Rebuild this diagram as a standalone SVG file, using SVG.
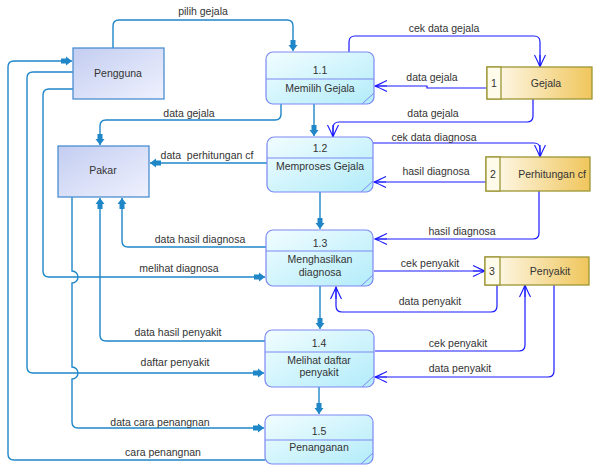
<svg xmlns="http://www.w3.org/2000/svg" width="593" height="466" viewBox="0 0 593 466">
<defs>
<linearGradient id="gProc" x1="0" y1="0" x2="1" y2="1">
<stop offset="0" stop-color="#f2fdff"/><stop offset="1" stop-color="#b2ecfa"/>
</linearGradient>
<linearGradient id="gEnt" x1="0" y1="0" x2="1" y2="1">
<stop offset="0" stop-color="#c3cdf1"/><stop offset="1" stop-color="#eff1fd"/>
</linearGradient>
<linearGradient id="gStore" x1="0" y1="0" x2="1" y2="0">
<stop offset="0" stop-color="#fffdf6"/><stop offset="1" stop-color="#f0c65c"/>
</linearGradient>
<marker id="aFill" markerUnits="userSpaceOnUse" markerWidth="14" markerHeight="12" viewBox="-12 -6 14 12" refX="0" refY="0" orient="auto">
<path d="M-11,-2.5 L-6,-2.5 L-6,-4.5 L0,0 L-6,4.5 L-6,2.5 L-11,2.5 Z" fill="#1f86c8"/>
</marker>
<marker id="aOpen" markerUnits="userSpaceOnUse" markerWidth="16" markerHeight="14" viewBox="-13 -7 16 14" refX="0" refY="0" orient="auto">
<path d="M-12,-5.5 Q-4,-1.5 0,0 Q-4,1.5 -12,5.5 M-12,0 H0" fill="none" stroke="#1a1aff" stroke-width="1.1"/>
</marker>
</defs>
<style>
text{font-family:"Liberation Sans",Arial,sans-serif;font-size:10.5px;fill:#333;}
.c{text-anchor:middle;}
.ent{fill:url(#gEnt);stroke:#4a8ed2;stroke-width:1.3;}
.proc{fill:url(#gProc);stroke:#7d88f2;stroke-width:1.2;}
.pl{stroke:#7d88f2;stroke-width:1;fill:none;}
.store{fill:url(#gStore);stroke:#9c9634;stroke-width:1.3;}
.num{fill:#fffbeb;stroke:#9c9634;stroke-width:1.3;}
.ec{fill:none;stroke:#1f86c8;stroke-width:1.4;}
.sc{fill:none;stroke:#1a1aff;stroke-width:1.2;}
</style>
<rect width="593" height="466" fill="#fff"/>

<g id="connectors">
<!-- entity flows -->
<path class="ec" marker-end="url(#aFill)" d="M113,48 V26 Q113,20 119,20 H287 Q293,20 293,26 V51"/>
<path class="ec" marker-end="url(#aFill)" d="M281,104 V114 Q281,120 275,120 H106 Q100,120 100,126 V145"/>
<path class="ec" marker-end="url(#aFill)" d="M267,163 H150"/>
<path class="ec" marker-end="url(#aFill)" d="M266,247 H128 Q122,247 122,241 V198"/>
<path class="ec" marker-end="url(#aFill)" d="M265,341 H106 Q100,341 100,335 V198"/>
<path class="ec" marker-end="url(#aFill)" d="M72,197 V271 A6,6 0 0 1 72,283 V367 A6,6 0 0 1 72,379 V422 Q72,428 78,428 H264"/>
<path class="ec" marker-end="url(#aFill)" d="M265,460 H14 Q8,460 8,454 V67 Q8,61 14,61 H72"/>
<path class="ec" marker-end="url(#aFill)" d="M73,72 H33 Q27,72 27,78 V367 Q27,373 33,373 H264"/>
<path class="ec" marker-end="url(#aFill)" d="M73,89 H49 Q43,89 43,95 V271 Q43,277 49,277 H265"/>
<path class="ec" marker-end="url(#aFill)" d="M314,104 V136"/>
<path class="ec" marker-end="url(#aFill)" d="M320,192 V229"/>
<path class="ec" marker-end="url(#aFill)" d="M320,286 V329"/>
<path class="ec" marker-end="url(#aFill)" d="M319,387 V414"/>
<!-- store flows -->
<path class="sc" marker-end="url(#aOpen)" d="M349,52 V42 Q349,36 355,36 H534 Q540,36 540,42 V67"/>
<path class="sc" marker-end="url(#aOpen)" d="M487,88 H427 V86 H375"/>
<path class="sc" marker-end="url(#aOpen)" d="M533,99 V116 Q533,122 527,122 H339 Q333,122 333,128 V137"/>
<path class="sc" marker-end="url(#aOpen)" d="M373,143 H534 Q540,143 540,149 V157"/>
<path class="sc" marker-end="url(#aOpen)" d="M486,182 H374"/>
<path class="sc" marker-end="url(#aOpen)" d="M539,191 V233 Q539,239 533,239 H375"/>
<path class="sc" marker-end="url(#aOpen)" d="M374,271 H485"/>
<path class="sc" marker-end="url(#aOpen)" d="M497,285 V306 Q497,312 491,312 H342 Q336,312 336,306 V287"/>
<path class="sc" marker-end="url(#aOpen)" d="M375,351 H519 Q525,351 525,345 V285"/>
<path class="sc" marker-end="url(#aOpen)" d="M554,285 V371 Q554,377 548,377 H375"/>
<!-- labels -->
<text class="c" x="203" y="15">pilih gejala</text>
<text class="c" x="189" y="117">data gejala</text>
<text class="c" x="207" y="159" xml:space="preserve">data  perhitungan cf</text>
<text class="c" x="200" y="243">data hasil diagnosa</text>
<text class="c" x="179" y="272">melihat diagnosa</text>
<text class="c" x="178" y="336">data hasil penyakit</text>
<text class="c" x="175" y="366">daftar penyakit</text>
<text class="c" x="160" y="426">data cara penangnan</text>
<text class="c" x="163" y="456">cara penangnan</text>
<text class="c" x="444" y="32">cek data gejala</text>
<text class="c" x="432" y="81">data gejala</text>
<text class="c" x="433" y="117">data gejala</text>
<text class="c" x="434" y="141">cek data diagnosa</text>
<text class="c" x="436" y="175">hasil diagnosa</text>
<text class="c" x="462" y="235">hasil diagnosa</text>
<text class="c" x="430" y="267">cek penyakit</text>
<text class="c" x="430" y="305">data penyakit</text>
<text class="c" x="458" y="347">cek penyakit</text>
<text class="c" x="460" y="372">data penyakit</text>
</g>

<g id="pengguna">
<rect class="ent" x="73" y="48" width="91" height="51"/>
<text class="c" x="118" y="77">Pengguna</text>
</g>
<g id="pakar">
<rect class="ent" x="58" y="146" width="91" height="51"/>
<text class="c" x="103" y="174">Pakar</text>
</g>

<g id="p11">
<rect class="proc" x="266" y="52" width="108" height="52" rx="7"/>
<line class="pl" x1="266" y1="79" x2="374" y2="79"/>
<line class="pl" x1="362" y1="104" x2="374" y2="93"/>
<text class="c" x="320" y="74">1.1</text>
<text class="c" x="320" y="92">Memilih Gejala</text>
</g>
<g id="p12">
<rect class="proc" x="267" y="137" width="106" height="55" rx="7"/>
<line class="pl" x1="267" y1="158" x2="373" y2="158"/>
<line class="pl" x1="361" y1="192" x2="373" y2="181"/>
<text class="c" x="320" y="152">1.2</text>
<text class="c" x="320" y="170">Memproses Gejala</text>
</g>
<g id="p13">
<rect class="proc" x="266" y="230" width="107" height="56" rx="7"/>
<line class="pl" x1="266" y1="251" x2="373" y2="251"/>
<line class="pl" x1="361" y1="286" x2="373" y2="275"/>
<text class="c" x="320" y="247">1.3</text>
<text class="c" x="320" y="263">Menghasilkan</text>
<text class="c" x="320" y="276">diagnosa</text>
</g>
<g id="p14">
<rect class="proc" x="265" y="330" width="109" height="57" rx="7"/>
<line class="pl" x1="265" y1="352" x2="374" y2="352"/>
<line class="pl" x1="362" y1="387" x2="374" y2="376"/>
<text class="c" x="319" y="347">1.4</text>
<text class="c" x="319" y="364">Melihat daftar</text>
<text class="c" x="319" y="376">penyakit</text>
</g>
<g id="p15">
<rect class="proc" x="265" y="415" width="108" height="49" rx="7"/>
<line class="pl" x1="265" y1="440" x2="373" y2="440"/>
<line class="pl" x1="361" y1="464" x2="373" y2="453"/>
<text class="c" x="319" y="435">1.5</text>
<text class="c" x="319" y="451">Penanganan</text>
</g>

<g id="s1">
<rect class="store" x="487" y="67" width="105" height="32"/>
<rect class="num" x="487" y="67" width="14" height="32"/>
<text class="c" x="494" y="87">1</text>
<text class="c" x="546" y="87">Gejala</text>
</g>
<g id="s2">
<rect class="store" x="486" y="157" width="104" height="34"/>
<rect class="num" x="486" y="157" width="14" height="34"/>
<text class="c" x="493" y="178">2</text>
<text class="c" x="552" y="178">Perhitungan cf</text>
</g>
<g id="s3">
<rect class="store" x="485" y="257" width="104" height="28"/>
<rect class="num" x="485" y="257" width="15" height="28"/>
<text class="c" x="492" y="275">3</text>
<text class="c" x="550" y="275">Penyakit</text>
</g>
</svg>
